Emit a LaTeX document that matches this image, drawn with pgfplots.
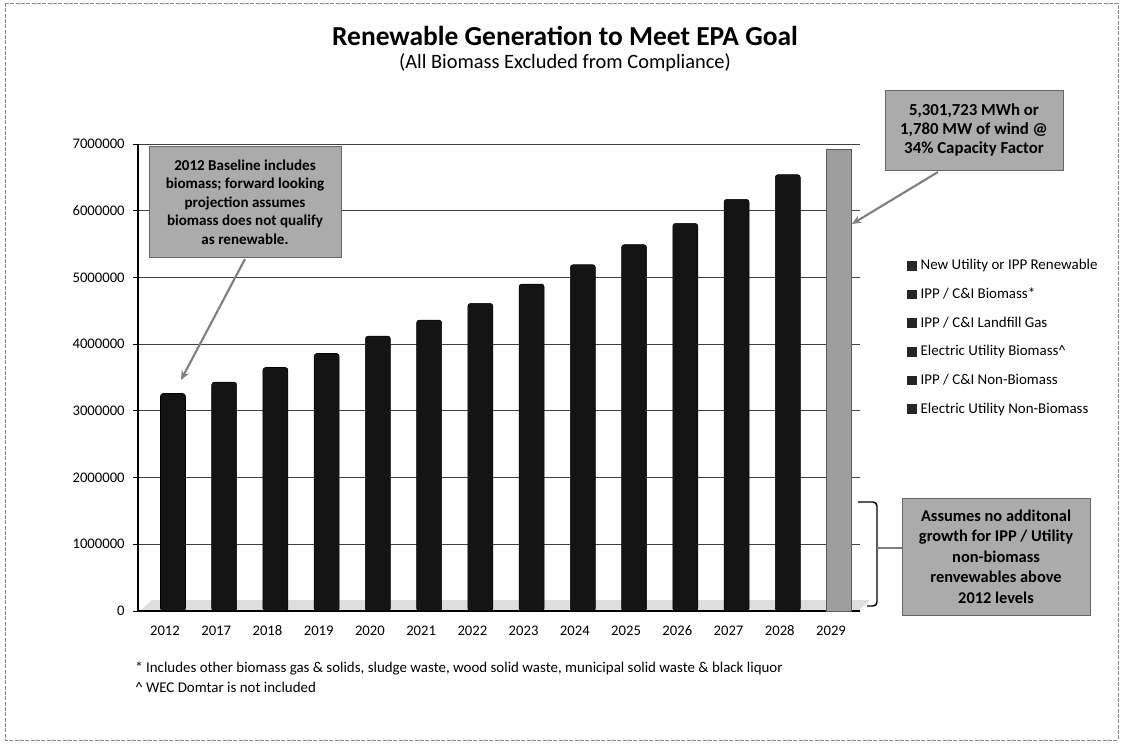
\documentclass[border=0pt]{standalone}
\usepackage{fontspec}
\setmainfont{Carlito}
\usepackage{pgfplots}
\usepackage{pgfplotstable}
\pgfplotsset{compat=1.18}
\usetikzlibrary{arrows.meta}

\pgfplotstableread{
x y
0 3260000
1 3430000
2 3650000
3 3860000
4 4120000
5 4360000
6 4610000
7 4900000
8 5190000
9 5490000
10 5810000
11 6170000
12 6540000
}\blackbars
\pgfplotstableread{
x y
13 6920000
}\graybar

\pgfplotsset{sqleg/.style={legend image code/.code={\fill[black!85] (0pt,-3.3pt) rectangle (6.6pt,3.3pt);}}}

\begin{document}
\begin{tikzpicture}
\path[use as bounding box] (0,0) rectangle (842.25pt,557.25pt);

\begin{scope}[x=0.75pt,y=-0.75pt,shift={(0pt,557.25pt)}]
  \draw[black!45, line width=0.6pt, dash pattern=on 3pt off 1pt] (5,3) rectangle (1118,740);
  \fill[black!13] (140,611) -- (858,611) -- (870,600) -- (152,600) -- cycle;
\end{scope}

\begin{axis}[
  at={(103.5pt,99pt)}, anchor=south west,
  scale only axis, width=541.5pt, height=350.25pt,
  xmin=-0.683, xmax=13.41, ymin=0, ymax=7000000,
  axis x line*=bottom, axis y line*=left,
  axis line style={black, line width=0.8pt},
  xtick={0,...,13},
  xticklabels={2012,2017,2018,2019,2020,2021,2022,2023,2024,2025,2026,2027,2028,2029},
  xticklabel style={xshift=-6pt, yshift=-3pt, text height=8pt, text depth=1pt},
  x tick style={draw=none},
  ytick={0,1000000,2000000,3000000,4000000,5000000,6000000,7000000},
  scaled y ticks=false,
  yticklabel style={/pgf/number format/fixed, /pgf/number format/1000 sep={}, xshift=-2.5pt},
  /pgf/number format/assume math mode=true,
  tick label style={font=\fontsize{11}{13}\selectfont, black},
  y tick style={black, line width=0.6pt},
  tick align=outside, major tick length=4pt,
  ymajorgrids, grid style={black!75, line width=0.6pt},
  legend style={at={(1.0596,0.765)}, anchor=north west, draw=none, fill=none,
    font=\fontsize{11.2}{13}\selectfont, row sep=8.2pt,
    /tikz/every odd column/.append style={column sep=1pt}},
  legend cell align=left,
]
\addplot[ybar, bar width=18.75pt, bar shift=0pt, fill=black!92, draw=black, rounded corners=2pt, forget plot] table[x=x,y=y] {\blackbars};
\addplot[ybar, bar width=18.75pt, bar shift=0pt, fill=black!38, draw=black!65, forget plot] table[x=x,y=y] {\graybar};
\addlegendimage{sqleg}
\addlegendentry{New Utility or IPP Renewable}
\addlegendimage{sqleg}
\addlegendentry{IPP / C\&I Biomass*}
\addlegendimage{sqleg}
\addlegendentry{IPP / C\&I Landfill Gas}
\addlegendimage{sqleg}
\addlegendentry{Electric Utility Biomass\textasciicircum}
\addlegendimage{sqleg}
\addlegendentry{IPP / C\&I Non-Biomass}
\addlegendimage{sqleg}
\addlegendentry{Electric Utility Non-Biomass}
\end{axis}

\begin{scope}[x=0.75pt,y=-0.75pt,shift={(0pt,557.25pt)}]
  \node[font=\bfseries\fontsize{20.6}{24}\selectfont] at (565,36) {Renewable Generation to Meet EPA Goal};
  \node[font=\fontsize{15.3}{18}\selectfont] at (565,63) {(All Biomass Excluded from Compliance)};
  % annotation 1
  \node[fill=black!33, draw=black!60, minimum width=144pt, minimum height=83pt, align=center,
        font=\bfseries\fontsize{11.3}{13.9}\selectfont, inner sep=1pt] at (245,202)
    {2012 Baseline includes\\biomass; forward looking\\projection assumes\\biomass does not qualify\\as renewable.};
  \draw[black!50, line width=1.6pt, -{Stealth[length=7pt,width=6pt]}] (245,259) -- (181,380);
  % annotation 2
  \node[fill=black!33, draw=black!60, minimum width=133.5pt, minimum height=60pt, align=center,
        font=\bfseries\fontsize{12.6}{14.25}\selectfont, inner sep=1pt] at (974,130)
    {5,301,723 MWh or\\1,780 MW of wind @\\34\% Capacity Factor};
  \draw[black!50, line width=1.6pt, -{Stealth[length=7pt,width=6pt]}] (938,172) -- (852,224);
  % annotation 3
  \draw[black, line width=1.1pt, rounded corners=3pt] (858,502) -- (877,502) -- (877,606) -- (867,606);
  \draw[black!50, line width=1.4pt] (877,548) -- (902,548);
  \node[fill=black!33, draw=black!60, minimum width=141pt, minimum height=87.75pt, align=center,
        font=\bfseries\fontsize{12.3}{15.4}\selectfont, inner sep=1pt] at (996,556.5)
    {Assumes no additonal\\growth for IPP / Utility\\non-biomass\\renvewables above\\2012 levels};
  % footnotes
  \node[anchor=west, font=\fontsize{11.2}{13}\selectfont, inner sep=0pt] at (135,668)
    {* Includes other biomass gas \& solids, sludge waste, wood solid waste, municipal solid waste \& black liquor};
  \node[anchor=west, font=\fontsize{11.2}{13}\selectfont, inner sep=0pt] at (135,687)
    {\textasciicircum\ WEC Domtar is not included};
\end{scope}
\end{tikzpicture}
\end{document}
